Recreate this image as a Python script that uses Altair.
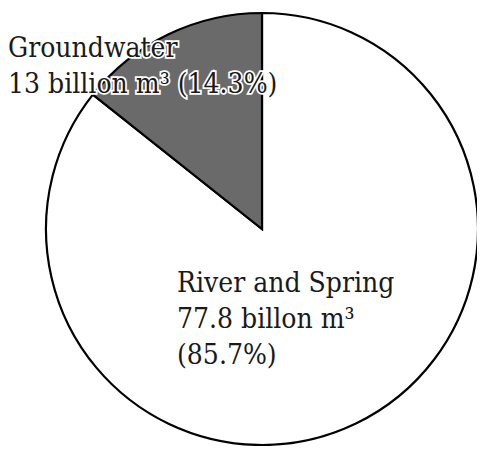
import altair as alt
import pandas as pd

categories = ["River and Spring", "Groundwater"]
values = [77.8, 13.0]
percents = [85.7, 14.3]
label_lines = [
    ["River and Spring", "77.8 billon m³", "(85.7%)"],
    ["Groundwater", "13 billion m³ (14.3%)"],
]
fills = ["#ffffff", "#6a6a6a"]

df = pd.DataFrame({
    "category": categories,
    "value": values,
    "percent": percents,
    "order": [0, 1],
})

W, H = 469, 438
CX, CY, R = 254, 221, 216

pie = alt.Chart(df).mark_arc(stroke="black", strokeWidth=2.2, outerRadius=R).encode(
    theta=alt.Theta("value:Q", stack=True),
    order=alt.Order("order:Q"),
    color=alt.Color("category:N", scale=alt.Scale(domain=categories, range=fills), legend=None),
    x=alt.value(CX),
    y=alt.value(CY),
)

font = "DejaVu Serif Condensed, DejaVu Serif"
fs = 28

def label(i, x, y):
    d = pd.DataFrame({"lab": [label_lines[i]]})
    base = alt.Chart(d)
    halo = base.mark_text(align="left", baseline="alphabetic", font=font, fontSize=fs,
                          lineHeight=36, stroke="white", strokeWidth=3.5, fill="white").encode(
        text="lab", x=alt.value(x), y=alt.value(y))
    txt = base.mark_text(align="left", baseline="alphabetic", font=font, fontSize=fs,
                         lineHeight=36, color="#1a1a1a").encode(
        text="lab", x=alt.value(x), y=alt.value(y))
    return halo + txt

chart = alt.layer(pie, label(0, 169, 284), label(1, 0, 49)).properties(
    width=W, height=H, autosize=alt.AutoSizeParams(type="none"), padding=0
).configure_view(stroke=None)

chart.save("out.html", embed_options={"renderer": "svg", "actions": False})
